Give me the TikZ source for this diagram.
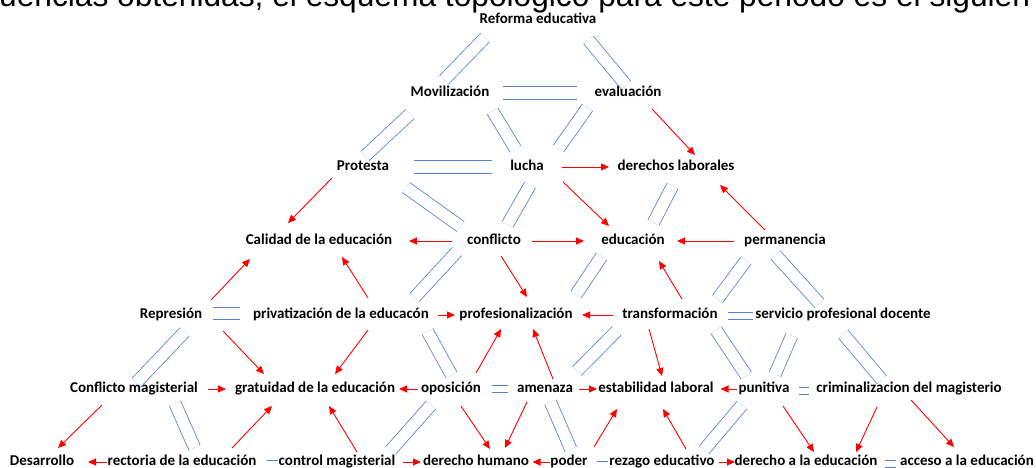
\documentclass[tikz,border=0pt]{standalone}
\usepackage{fontspec}
\setmainfont{Carlito}
\newfontfamily\leadfont{Liberation Sans}
\usetikzlibrary{arrows.meta, calc}
\definecolor{linkblue}{RGB}{84,128,204}
\tikzset{%
	term/.style={inner sep=0pt, text height=10pt, text depth=3pt,%
		font=\fontsize{15}{18}\selectfont\bfseries},
	link/.style={draw=linkblue, line width=0.8pt, double=white, double distance=11.5pt},
	tie/.style={draw=linkblue, line width=0.8pt, double=white, double distance=6pt},
	cause/.style={draw=red, line width=0.9pt, -{Triangle[length=8pt, width=7pt]}}
}

\begin{document}
\begin{tikzpicture}[x=1pt, y=-1pt]
	\useasboundingbox (0,0) rectangle (1036,468);
	\node[anchor=base west, inner sep=0pt, font=\leadfont\fontsize{31.7}{36}\selectfont] (lead) at (-1,7)
		{uencias obtenidas, el esquema topológico para este periodo es el siguien};

	\node[term] (ref) at (538,20) {Reforma educativa};
	\node[term] (mov) at (450,93) {Movilización};
	\node[term] (eva) at (628,93) {evaluación};
	\node[term] (pro) at (363,167) {Protesta};
	\node[term] (luc) at (527,167) {lucha};
	\node[term] (dla) at (676,167) {derechos laborales};
	\node[term] (cal) at (319,241) {Calidad de la educación};
	\node[term] (con) at (494,241) {conflicto};
	\node[term] (edu) at (633,241) {educación};
	\node[term] (per) at (785,241) {permanencia};
	\node[term] (rep) at (171,315) {Represión};
	\node[term] (pri) at (341,315) {privatización de la educacón};
	\node[term] (prf) at (516,315) {profesionalización};
	\node[term] (tra) at (670,315) {transformación};
	\node[term] (spd) at (843,315) {servicio profesional docente};
	\node[term] (cma) at (134,389) {Conflicto magisterial};
	\node[term] (gra) at (315,389) {gratuidad de la educación};
	\node[term] (opo) at (451,389) {oposición};
	\node[term] (ame) at (545,389) {amenaza};
	\node[term] (est) at (656,389) {estabilidad laboral};
	\node[term] (pun) at (764,389) {punitiva};
	\node[term] (cri) at (909,389) {criminalizacion del magisterio};
	\node[term] (des) at (42,462) {Desarrollo};
	\node[term] (rec) at (182,462) {rectoria de la educación};
	\node[term] (cmg) at (337,462) {control magisterial};
	\node[term] (dhu) at (476,462) {derecho humano};
	\node[term] (pod) at (569,462) {poder};
	\node[term] (rez) at (662,462) {rezago educativo};
	\node[term] (dae) at (806,462) {derecho a la educación};
	\node[term] (acc) at (967,462) {acceso a la educación};

	\draw[link] ($(ref)+(-53,17.5)$) -- ($(mov)+(-6,-13)$);
	\draw[link] ($(ref)+(50.5,20)$) -- ($(eva)+(-2,-8)$);
	\draw[link] ($(mov)+(53,0)$) -- ($(eva)+(-51,0)$);
	\draw[link] ($(mov)+(-40,21)$) -- ($(pro)+(2,-11)$);
	\draw[link] ($(mov)+(42.5,18)$) -- ($(luc)+(-11.5,-18)$);
	\draw[link] ($(eva)+(-40.5,14.5)$) -- ($(luc)+(31.5,-18.5)$);
	\draw[link] ($(pro)+(51,0)$) -- ($(luc)+(-35,0)$);
	\draw[link] ($(pro)+(43,20.5)$) -- ($(con)+(-33.5,-14.5)$);
	\draw[link] ($(luc)+(3,18)$) -- ($(con)+(13.5,-16.5)$);
	\draw[link] ($(dla)+(-3.5,19)$) -- ($(edu)+(20.5,-18.5)$);
	\draw[link] ($(con)+(-37,10.5)$) -- ($(pri)+(73.5,-17.5)$);
	\draw[link] ($(edu)+(-31.5,15.5)$) -- ($(prf)+(60,-20.5)$);
	\draw[link] ($(per)+(-39,19.5)$) -- ($(tra)+(47.5,-16)$);
	\draw[link] ($(per)+(-9.5,14)$) -- ($(spd)+(-23.5,-11.5)$);
	\draw[tie] ($(tra)+(58,1)$) -- ($(spd)+(-90,1)$);
	\draw[link] ($(rep)+(42,-1.5)$) -- ($(pri)+(-101,-1.5)$);
	\draw[link] ($(rep)+(13.5,17)$) -- ($(cma)+(2.5,-6.5)$);
	\draw[link] ($(pri)+(86.5,16.5)$) -- ($(opo)+(0.5,-14)$);
	\draw[link] ($(tra)+(-53.5,16)$) -- ($(ame)+(32,-18)$);
	\draw[link] ($(tra)+(46,15)$) -- ($(pun)+(-17.7,-13.5)$);
	\draw[link] ($(spd)+(-51.3,20.8)$) -- ($(pun)+(11,-14.8)$);
	\draw[link] ($(spd)+(0.3,19.2)$) -- ($(cri)+(-27.3,-9.3)$);
	\draw[tie] ($(opo)+(41,0)$) -- ($(ame)+(-37,0)$);
	\draw[tie] ($(pun)+(35,2)$) -- ($(cri)+(-100,2)$);
	\draw[link] ($(cma)+(41,14.5)$) -- ($(rec)+(12.5,-14.5)$);
	\draw[link] ($(opo)+(-20,16)$) -- ($(cmg)+(54,-12)$);
	\draw[link] ($(ame)+(5.5,13.3)$) -- ($(pod)+(1.8,-12.8)$);
	\draw[link] ($(pun)+(-22,16)$) -- ($(rez)+(42,-12)$);
	\draw[tie] ($(rec)+(84.7,1.5)$) -- ($(cmg)+(-58.7,1.5)$);
	\draw[tie] ($(pod)+(28.4,3)$) -- ($(rez)+(-54.3,3)$);
	\draw[tie] ($(dae)+(78.5,2)$) -- ($(acc)+(-71,2)$);

	\draw[cause] ($(eva)+(24,16)$) -- ($(dla)+(19,-12)$);
	\draw[cause] ($(luc)+(34.5,0)$) -- ($(dla)+(-67,0)$);
	\draw[cause] ($(pro)+(-31,11)$) -- ($(cal)+(-31,-18)$);
	\draw[cause] ($(luc)+(36,15)$) -- ($(edu)+(-24,-15)$);
	\draw[cause] ($(per)+(-20,-11)$) -- ($(dla)+(44,18)$);
	\draw[cause] ($(con)+(-42,0)$) -- ($(cal)+(90,0)$);
	\draw[cause] ($(con)+(38,0)$) -- ($(edu)+(-49,0)$);
	\draw[cause] ($(per)+(-51,0)$) -- ($(edu)+(44,0)$);
	\draw[cause] ($(con)+(7,15)$) -- ($(prf)+(11,-18)$);
	\draw[cause] ($(rep)+(40,-15)$) -- ($(cal)+(-69,18)$);
	\draw[cause] ($(pri)+(27,-17)$) -- ($(cal)+(23,16)$);
	\draw[cause] ($(tra)+(12,-16)$) -- ($(edu)+(26,20)$);
	\draw[cause] ($(pri)+(97,0)$) -- ($(prf)+(-61,0)$);
	\draw[cause] ($(tra)+(-57,0)$) -- ($(prf)+(66,0)$);
	\draw[cause] ($(rep)+(52,16)$) -- ($(gra)+(-51,-15)$);
	\draw[cause] ($(pri)+(27,15)$) -- ($(gra)+(20,-15)$);
	\draw[cause] ($(opo)+(25,-16)$) -- ($(prf)+(-15,14)$);
	\draw[cause] ($(ame)+(8,-10)$) -- ($(prf)+(17,14)$);
	\draw[cause] ($(tra)+(-21,14)$) -- ($(est)+(6,-13)$);
	\draw[cause] ($(cma)+(74,0)$) -- ($(gra)+(-89,0)$);
	\draw[cause] ($(opo)+(-33,0)$) -- ($(gra)+(84,0)$);
	\draw[cause] ($(ame)+(34,0)$) -- ($(est)+(-59,0)$);
	\draw[cause] ($(pun)+(-27.5,0)$) -- ($(est)+(64.5,0)$);
	\draw[cause] ($(cma)+(-32,16)$) -- ($(des)+(16,-14)$);
	\draw[cause] ($(rec)+(50,-14)$) -- ($(gra)+(-43,17)$);
	\draw[cause] ($(cmg)+(20,-10)$) -- ($(gra)+(14,17)$);
	\draw[cause] ($(opo)+(10,17)$) -- ($(dhu)+(14,-13)$);
	\draw[cause] ($(ame)+(-18,13)$) -- ($(dhu)+(29,-14)$);
	\draw[cause] ($(pod)+(25,-15)$) -- ($(est)+(-39,20)$);
	\draw[cause] ($(rez)+(24,-13)$) -- ($(est)+(7,20)$);
	\draw[cause] ($(pun)+(19,17)$) -- ($(dae)+(8,-10)$);
	\draw[cause] ($(cri)+(-32,18)$) -- ($(dae)+(50,-10)$);
	\draw[cause] ($(cri)+(2,11)$) -- ($(acc)+(-13,-15)$);
	\draw[cause] ($(cmg)+(66,0)$) -- ($(dhu)+(-55,0)$);
	\draw[cause] ($(pod)+(-19.5,0)$) -- ($(dhu)+(56.5,0)$);
	\draw[cause] ($(rec)+(-75,0)$) -- ($(des)+(46,0)$);
	\draw[cause] ($(rez)+(57,0)$) -- ($(dae)+(-71,0)$);
\end{tikzpicture}
\end{document}
